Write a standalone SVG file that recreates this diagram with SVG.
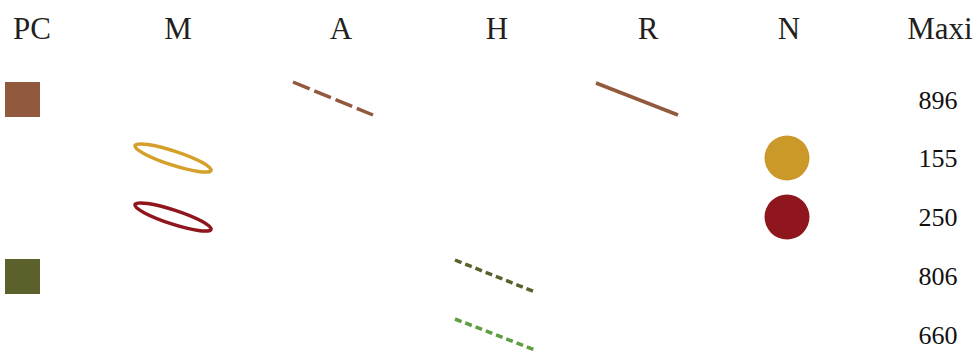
<svg xmlns="http://www.w3.org/2000/svg" width="979" height="352" viewBox="0 0 979 352">
<style>
.hd{font-family:"Liberation Serif","Times New Roman",serif;font-size:31px;fill:#231f1c;text-anchor:middle}
.val{font-family:"Liberation Serif","Times New Roman",serif;font-size:26px;fill:#111;text-anchor:middle}
.ln{stroke-width:3.5;fill:none}
</style>
<rect width="979" height="352" fill="#fff"/>
<g id="header">
<text class="hd" x="32" y="39">PC</text>
<text class="hd" x="178" y="39">M</text>
<text class="hd" x="341" y="39">A</text>
<text class="hd" x="497" y="39">H</text>
<text class="hd" x="648" y="39">R</text>
<text class="hd" x="789" y="39">N</text>
<text class="hd" x="940" y="39">Maxi</text>
</g>
<g id="row1">
<rect x="5" y="82" width="35" height="35" fill="#915a3e"/>
<line class="ln" x1="293" y1="82" x2="373" y2="115" stroke="#915a3e" stroke-dasharray="18,5"/>
<line class="ln" x1="596" y1="83" x2="678" y2="115" stroke="#915a3e"/>
<text class="val" x="938" y="109">896</text>
</g>
<g id="row2">
<ellipse cx="173" cy="158" rx="40" ry="7" transform="rotate(18 173 158)" fill="none" stroke="#d4a02a" stroke-width="3.5"/>
<circle cx="787" cy="158" r="22.5" fill="#cb982a"/>
<text class="val" x="938" y="167">155</text>
</g>
<g id="row3">
<ellipse cx="173" cy="217" rx="40" ry="7" transform="rotate(18 173 217)" fill="none" stroke="#8e161c" stroke-width="3.5"/>
<circle cx="787" cy="217" r="22.5" fill="#8e161c"/>
<text class="val" x="938" y="226">250</text>
</g>
<g id="row4">
<rect x="5" y="259" width="35" height="35" fill="#5c612c"/>
<line class="ln" x1="455" y1="260" x2="535" y2="292" stroke="#5c612c" stroke-dasharray="7,4"/>
<text class="val" x="938" y="285">806</text>
</g>
<g id="row5">
<line class="ln" x1="455" y1="319" x2="535" y2="350" stroke="#5e9e40" stroke-dasharray="7,4"/>
<text class="val" x="938" y="344">660</text>
</g>
</svg>
